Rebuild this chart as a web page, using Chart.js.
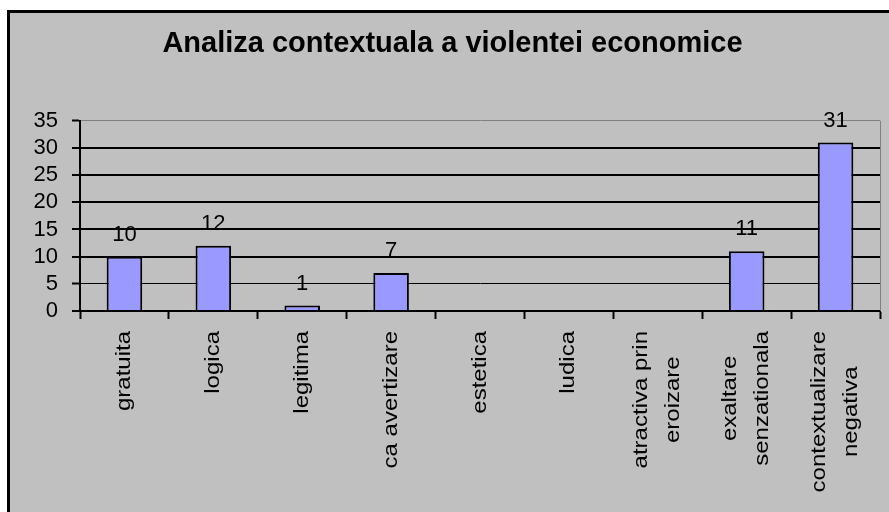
<!DOCTYPE html>
<html>
<head>
<meta charset="utf-8">
<title>Analiza contextuala a violentei economice</title>
<script src="https://cdn.jsdelivr.net/npm/chart.js@4.4.1/dist/chart.umd.min.js"></script>
<style>
    html, body { margin: 0; padding: 0; background: #FFFFFF; }
    #chartBox { width: 889px; height: 512px; }
</style>
</head>
<body>
<div id="chartBox"><canvas id="violenceChart" width="889" height="512"></canvas></div>
<script>
// Chart data
const chartTitle = 'Analiza contextuala a violentei economice';
const categories = [
    ['gratuita'],
    ['logica'],
    ['legitima'],
    ['ca avertizare'],
    ['estetica'],
    ['ludica'],
    ['atractiva prin', 'eroizare'],
    ['exaltare', 'senzationala'],
    ['contextualizare', 'negativa']
];
const counts = [10, 12, 1, 7, 0, 0, 0, 11, 31];
const yTickMin = 0;
const yTickMax = 35;
const yTickStep = 5;

const FONT = '"Liberation Sans", Arial, sans-serif';

/**
 * Paints the grey chart background with the black frame on top and left.
 */
const backgroundPlugin = {
    id: 'excelBackground',
    beforeDraw(chart) {
        const ctx = chart.ctx;
        ctx.save();
        ctx.fillStyle = '#FFFFFF';
        ctx.fillRect(0, 0, chart.width, chart.height);
        ctx.fillStyle = '#C0C0C0';
        ctx.fillRect(7, 10, chart.width - 7, chart.height - 10);
        ctx.fillStyle = '#000000';
        ctx.fillRect(7, 10, 3, chart.height - 10);   // left frame
        ctx.fillRect(7, 10, chart.width - 7, 3);     // top frame
        ctx.restore();
    },
    beforeDatasetsDraw(chart) {
        // grey plot area border on the right
        const { ctx, chartArea } = chart;
        ctx.save();
        ctx.strokeStyle = '#808080';
        ctx.lineWidth = 1;
        ctx.beginPath();
        ctx.moveTo(chartArea.right + 0.5, chartArea.top);
        ctx.lineTo(chartArea.right + 0.5, chartArea.bottom);
        ctx.stroke();
        ctx.restore();
    }
};

/**
 * Writes the value above each non-zero bar.
 */
const valueLabelPlugin = {
    id: 'valueLabels',
    afterDatasetsDraw(chart) {
        const ctx = chart.ctx;
        const meta = chart.getDatasetMeta(0);
        const ds = chart.data.datasets[0];
        ctx.save();
        ctx.font = '22px ' + FONT;
        ctx.fillStyle = '#000000';
        ctx.textAlign = 'center';
        ctx.textBaseline = 'alphabetic';
        meta.data.forEach((bar, i) => {
            const value = ds.data[i];
            if (!value) return;
            ctx.fillText(String(value), bar.x, bar.y - 16);
        });
        ctx.restore();
    }
};

/**
 * Draws the vertical category labels, lines centred on each other
 * (Chart.js right-aligns rotated multi-line labels).
 */
const categoryLabelPlugin = {
    id: 'categoryLabels',
    afterDraw(chart) {
        const ctx = chart.ctx;
        const xScale = chart.scales.x;
        const top = xScale.top + 20;
        const lineGap = 32;
        const stretch = 1.2;
        ctx.save();
        ctx.font = '20px ' + FONT;
        ctx.fillStyle = '#000000';
        ctx.textAlign = 'center';
        ctx.textBaseline = 'middle';
        chart.data.labels.forEach((lines, i) => {
            const x = xScale.getPixelForValue(i);
            const longest = Math.max(...lines.map(l => ctx.measureText(l).width)) * stretch;
            const centerY = top + longest / 2;
            lines.forEach((line, j) => {
                const lx = x + (j - (lines.length - 1) / 2) * lineGap;
                ctx.save();
                ctx.translate(lx, centerY);
                ctx.rotate(-Math.PI / 2);
                ctx.scale(stretch, 1);
                ctx.fillText(line, 0, 0);
                ctx.restore();
            });
        });
        ctx.restore();
    }
};

/**
 * Builds the Chart.js configuration.
 */
function createViolenceChartConfig() {
    return {
        type: 'bar',
        data: {
            labels: categories,
            datasets: [{
                label: chartTitle,
                data: counts,
                backgroundColor: '#9999FF',
                borderColor: '#000000',
                borderWidth: 2,
                barPercentage: 0.4,
                categoryPercentage: 1.0
            }]
        },
        options: {
            responsive: false,
            animation: false,
            devicePixelRatio: 1,
            layout: {
                padding: { left: 25, right: 9, top: 0, bottom: 0 }
            },
            plugins: {
                legend: { display: false },
                tooltip: { enabled: false },
                title: {
                    display: true,
                    text: chartTitle,
                    color: '#000000',
                    font: { family: FONT, size: 29, weight: 'bold', lineHeight: 1.2 },
                    padding: { top: 27, bottom: 59 }
                }
            },
            scales: {
                x: {
                    offset: true,
                    grid: {
                        offset: true,
                        drawOnChartArea: false,
                        drawTicks: true,
                        tickLength: 8,
                        tickColor: '#000000',
                        tickWidth: 2
                    },
                    border: { color: '#000000', width: 2 },
                    ticks: { display: false },
                    afterFit(scale) { scale.height = 201; }
                },
                y: {
                    min: yTickMin,
                    max: yTickMax,
                    ticks: {
                        stepSize: yTickStep,
                        autoSkip: false,
                        color: '#000000',
                        padding: 14,
                        font: { family: FONT, size: 22 }
                    },
                    grid: {
                        color: ctx => ctx.tick && ctx.tick.value === yTickMax ? '#808080' : '#000000',
                        lineWidth: ctx => {
                            if (!ctx.tick) return 2;
                            if (ctx.tick.value === yTickMax) return 1;
                            if (ctx.tick.value === yTickStep) return 1;
                            return 2;
                        },
                        tickLength: 8,
                        tickColor: '#000000',
                        tickWidth: 2
                    },
                    border: { color: '#000000', width: 2 },
                    afterFit(scale) { scale.width = 55; }
                }
            }
        },
        plugins: [backgroundPlugin, valueLabelPlugin, categoryLabelPlugin]
    };
}

const ctx = document.getElementById('violenceChart').getContext('2d');
const violenceChart = new Chart(ctx, createViolenceChartConfig());
</script>
</body>
</html>
